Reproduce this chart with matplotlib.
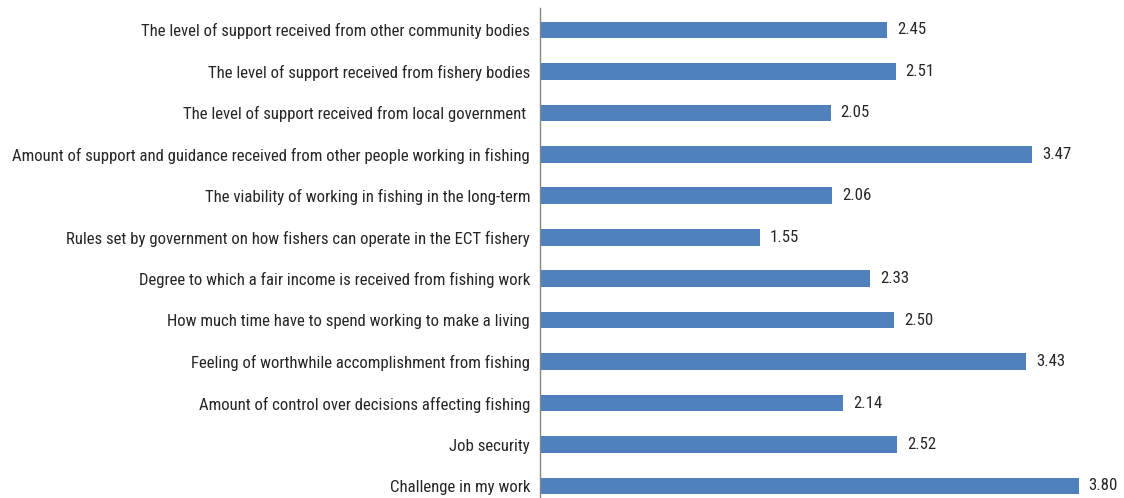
import matplotlib.pyplot as plt
from matplotlib import font_manager

categories = [
    "The level of support received from other community bodies",
    "The level of support received from fishery bodies",
    "The level of support received from local government ",
    "Amount of support and guidance received from other people working in fishing",
    "The viability of working in fishing in the long-term",
    "Rules set by government on how fishers can operate in the ECT fishery",
    "Degree to which a fair income is received from fishing work",
    "How much time have to spend working to make a living",
    "Feeling of worthwhile accomplishment from fishing",
    "Amount of control over decisions affecting fishing",
    "Job security",
    "Challenge in my work",
]
scores = [2.45, 2.51, 2.05, 3.47, 2.06, 1.55, 2.33, 2.50, 3.43, 2.14, 2.52, 3.80]

# prefer a narrow face if one is around
names = {f.name for f in font_manager.fontManager.ttflist}
family = "DejaVu Sans"
for cand in ["Roboto Condensed", "Open Sans Condensed", "Liberation Sans Narrow",
             "Arial Narrow", "Liberation Sans"]:
    if cand in names:
        family = cand
        break
plt.rcParams["font.family"] = family

fig = plt.figure(figsize=(11.24, 4.98), dpi=100)
ax = fig.add_axes([0.4804, 0.0, 0.5196, 0.984])

pos = list(range(len(categories)))
bars = ax.barh(pos, scores, height=0.4, color="#4F81BD")
vals = []
for b, v in zip(bars, scores):
    t = ax.text(b.get_width() + 0.07, b.get_y() + b.get_height() / 2, f"{v:.2f}",
                va="center", ha="left", fontsize=12, color="#262626")
    vals.append(t)

ax.set_yticks(pos)
labels = ax.set_yticklabels(categories, fontsize=12, color="#262626")
ax.tick_params(axis="y", length=0, pad=7)
ax.set_ylim(11.29, -0.53)
ax.set_xlim(0, 4.12)
ax.set_xticks([])
for side in ["top", "right", "bottom"]:
    ax.spines[side].set_visible(False)
ax.spines["left"].set_color("#868686")
ax.spines["left"].set_linewidth(1)

# size the labels so the longest one is about 520 px wide
fig.canvas.draw()
r = fig.canvas.get_renderer()
widest = max(l.get_window_extent(r).width for l in labels)
size = min(13, 12 * 520 / widest)
for l in labels:
    l.set_fontsize(size)
for t in vals:
    t.set_fontsize(size)

fig.savefig("out.png", dpi=100)
